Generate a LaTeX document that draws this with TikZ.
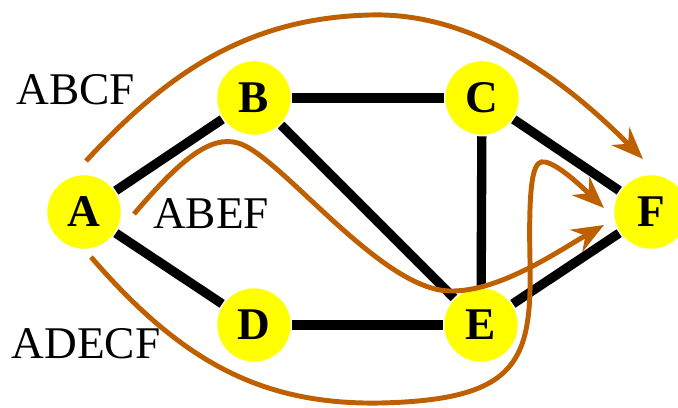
\documentclass[tikz,border=0pt]{standalone}
\usepackage{fontspec}
\setmainfont{Liberation Serif}
\usetikzlibrary{arrows.meta}
\definecolor{pathcol}{RGB}{191,96,0}
\definecolor{nodeyellow}{RGB}{255,255,0}
\begin{document}
\begin{tikzpicture}[x=0.75pt,y=-0.75pt,
  vertex/.style={circle,fill=nodeyellow,minimum size=55pt,inner sep=0pt,outer sep=1.2pt,
    font=\fontsize{34}{34}\selectfont\bfseries},
  link/.style={line width=7pt,black},
  route/.style={line width=3.7pt,pathcol,-{Stealth[length=24pt,width=19pt,inset=8pt]}},
  routelabel/.style={font=\fontsize{34}{34}\selectfont}]
\useasboundingbox (0,0) rectangle (678,407);
% vertices
\node[vertex] (A) at (84,212) {A};
\node[vertex] (B) at (254,98) {B};
\node[vertex] (C) at (482,98) {C};
\node[vertex] (D) at (254,325) {D};
\node[vertex] (E) at (481,325) {E};
\node[vertex] (F) at (651,212) {F};
% edges
\draw[link] (A) -- (B);
\draw[link] (A) -- (D);
\draw[link] (B) -- (C);
\draw[link] (B) -- (E);
\draw[link] (C) -- (E);
\draw[link] (C) -- (F);
\draw[link] (D) -- (E);
\draw[link] (E) -- (F);
% route labels
\node[routelabel] (lbl1) at (76,90) {ABCF};
\node[routelabel] (lbl2) at (211,214) {ABEF};
\node[routelabel] (lbl3) at (86,344) {ADECF};
% route start and end points
\coordinate (s1) at (86,161);
\coordinate (e1) at (643,159);
\coordinate (s2) at (134,214);
\coordinate (e2) at (604,225);
\coordinate (s3) at (91,257);
\coordinate (e3) at (604,208);
% routes
\draw[route] (s1) .. controls (170,70) and (250,18) .. (370,15)
  .. controls (470,12) and (560,75) .. (e1);
\draw[route] (s2) .. controls (180,160) and (210,135) .. (238,143)
  .. controls (280,155) and (380,290) .. (450,291)
  .. controls (500,292) and (560,250) .. (e2);
\draw[route] (s3) .. controls (180,360) and (260,405) .. (380,403)
  .. controls (520,400) and (532,360) .. (530,260)
  .. controls (528,170) and (535,160) .. (545,162)
  .. controls (560,165) and (585,190) .. (e3);
\end{tikzpicture}
\end{document}
